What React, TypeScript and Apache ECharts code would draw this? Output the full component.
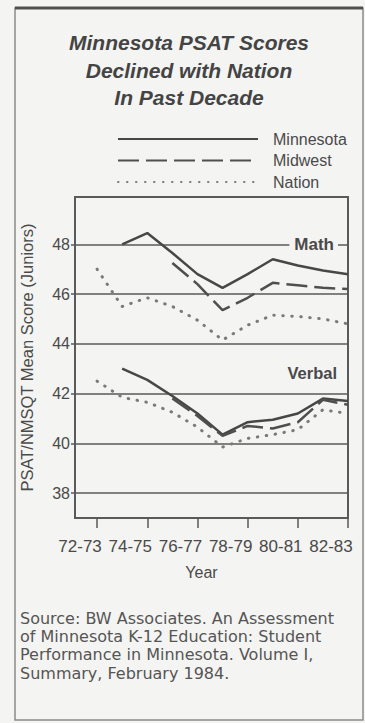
import { useEffect, useRef } from 'react';
import * as echarts from 'echarts';

const years = [72, 73, 74, 75, 76, 77, 78, 79, 80, 81, 82];
const yearTicks = [72, 74, 76, 78, 80, 82];
const yearTickLabels = ['72-73', '74-75', '76-77', '78-79', '80-81', '82-83'];
const scoreTicks = [38, 40, 42, 44, 46, 48];

const mathMinnesota = [null, 48.0, 48.45, 47.65, 46.8, 46.25, 46.8, 47.4, 47.15, 46.95, 46.8];
const mathMidwest = [null, null, null, 47.25, 46.4, 45.35, 45.85, 46.45, 46.35, 46.25, 46.2];
const mathNation = [47.0, 45.5, 45.85, 45.5, 44.95, 44.15, 44.75, 45.15, 45.1, 45.0, 44.8];

const verbalMinnesota = [null, 43.0, 42.55, 41.9, 41.2, 40.35, 40.85, 40.95, 41.2, 41.8, 41.7];
const verbalMidwest = [null, null, null, 41.8, 41.1, 40.3, 40.7, 40.6, 40.85, 41.75, 41.55];
const verbalNation = [42.5, 41.85, 41.65, 41.25, 40.65, 39.85, 40.2, 40.35, 40.55, 41.35, 41.2];

const seriesNames = ['Minnesota', 'Midwest', 'Nation'];
const titleLines = ['Minnesota PSAT Scores', 'Declined with Nation', 'In Past Decade'];
const sourceLines = [
  'Source: BW Associates. An Assessment',
  'of Minnesota K-12 Education: Student',
  'Performance in Minnesota. Volume I,',
  'Summary, February 1984.',
];
const yAxisTitle = 'PSAT/NMSQT Mean Score (Juniors)';
const xAxisTitle = 'Year';

const FONT = '"Liberation Sans", Arial, sans-serif';
const BG = '#f4f4f2';
const INK = '#4a4a4a';

function pairs(values: (number | null)[]) {
  return years.map((y, i) => [y, values[i]]);
}

const styles = {
  Minnesota: { color: '#474747', width: 2.5, type: 'solid' as any, cap: 'butt' as any },
  Midwest: { color: '#4f4f4f', width: 2.5, type: [21, 7] as any, cap: 'butt' as any },
  Nation: { color: '#7a7a7a', width: 3, type: [0.5, 8.5] as any, cap: 'round' as any },
};

export default function App() {
  const ref = useRef<HTMLDivElement>(null);
  useEffect(() => {
    if (!ref.current) return;
    const chart = echarts.init(ref.current, null, { renderer: 'svg' });
    const mk = (name: 'Minnesota' | 'Midwest' | 'Nation', values: (number | null)[]) => ({
      name,
      type: 'line',
      data: pairs(values),
      symbol: 'none',
      connectNulls: false,
      lineStyle: styles[name],
      itemStyle: { color: styles[name].color },
      z: 3,
    });
    chart.setOption({
      animation: false,
      backgroundColor: BG,
      grid: {
        left: 75,
        top: 197,
        right: 17,
        bottom: 205,
        show: true,
        borderColor: '#5a5a5a',
        borderWidth: 2,
        backgroundColor: 'transparent',
      },
      legend: {
        orient: 'vertical',
        left: 117,
        top: 131,
        padding: 0,
        itemWidth: 140,
        itemHeight: 14,
        itemGap: 5.5,
        selectedMode: false,
        data: seriesNames,
        itemStyle: { opacity: 0 },
        textStyle: { fontSize: 16, color: INK, fontFamily: FONT, padding: [0, 0, 0, 10] },
      },
      xAxis: {
        type: 'value',
        min: 71.12,
        max: 82,
        axisLine: { show: false },
        axisTick: {
          show: true,
          customValues: yearTicks,
          length: 10,
          lineStyle: { color: '#5a5a5a', width: 1.5 },
        },
        axisLabel: {
          customValues: yearTicks,
          formatter: (v: number) => yearTickLabels[yearTicks.indexOf(v)] ?? '',
          margin: 20,
          fontSize: 17,
          color: INK,
          fontFamily: FONT,
          padding: [0, 34, 0, 0],
        },
        splitLine: { show: false },
        name: xAxisTitle,
        nameLocation: 'middle',
        nameGap: 46,
        nameTextStyle: { fontSize: 16, color: INK, fontFamily: FONT, padding: [0, 20, 0, 0] },
      },
      yAxis: {
        type: 'value',
        min: 37,
        max: 49.9,
        axisLine: { show: false },
        axisTick: {
          show: true,
          customValues: scoreTicks,
          length: 4,
          lineStyle: { color: '#5a5a5a', width: 1.5 },
        },
        axisLabel: {
          customValues: scoreTicks,
          margin: 5,
          fontSize: 16,
          color: INK,
          fontFamily: FONT,
        },
        splitLine: { show: true, lineStyle: { color: '#5a5a5a', width: 1.5 } },
        name: yAxisTitle,
        nameLocation: 'middle',
        nameGap: 40,
        nameRotate: 90,
        nameTextStyle: { fontSize: 16.5, color: INK, fontFamily: FONT },
      },
      series: [
        mk('Minnesota', mathMinnesota),
        mk('Midwest', mathMidwest),
        mk('Nation', mathNation),
        mk('Minnesota', verbalMinnesota),
        mk('Midwest', verbalMidwest),
        mk('Nation', verbalNation),
      ],
      graphic: [
        {
          type: 'rect',
          shape: { x: 15, y: 8, width: 348, height: 712 },
          style: { fill: 'none', stroke: '#8a8a8a', lineWidth: 1.5 },
          silent: true,
        },
        {
          type: 'line',
          shape: { x1: 15, y1: 8, x2: 363, y2: 8 },
          style: { stroke: '#505050', lineWidth: 3 },
          silent: true,
        },
        {
          type: 'text',
          style: {
            text: titleLines.join('\n'),
            x: 189,
            y: 29,
            align: 'center',
            verticalAlign: 'top',
            font: `italic bold 21px ${FONT}`,
            lineHeight: 27.5,
            fill: '#444444',
          },
          silent: true,
        },
        {
          type: 'text',
          z: 10,
          style: {
            text: 'Math',
            x: 338,
            y: 244,
            align: 'right',
            verticalAlign: 'middle',
            font: `bold 17px ${FONT}`,
            fill: INK,
            backgroundColor: BG,
            padding: [2, 4, 2, 5],
          },
          silent: true,
        },
        {
          type: 'text',
          z: 10,
          style: {
            text: 'Verbal',
            x: 337,
            y: 373,
            align: 'right',
            verticalAlign: 'middle',
            font: `bold 16.5px ${FONT}`,
            fill: INK,
          },
          silent: true,
        },
        {
          type: 'text',
          style: {
            text: sourceLines.join('\n'),
            x: 20,
            y: 609,
            align: 'left',
            verticalAlign: 'top',
            font: `16px "DejaVu Sans", sans-serif`,
            lineHeight: 18.3,
            fill: '#555555',
          },
          silent: true,
        },
      ],
    });
    return () => chart.dispose();
  }, []);
  return (
    <div
      ref={ref}
      style={{ position: 'absolute', left: 0, top: 0, width: 365, height: 723 }}
    />
  );
}
